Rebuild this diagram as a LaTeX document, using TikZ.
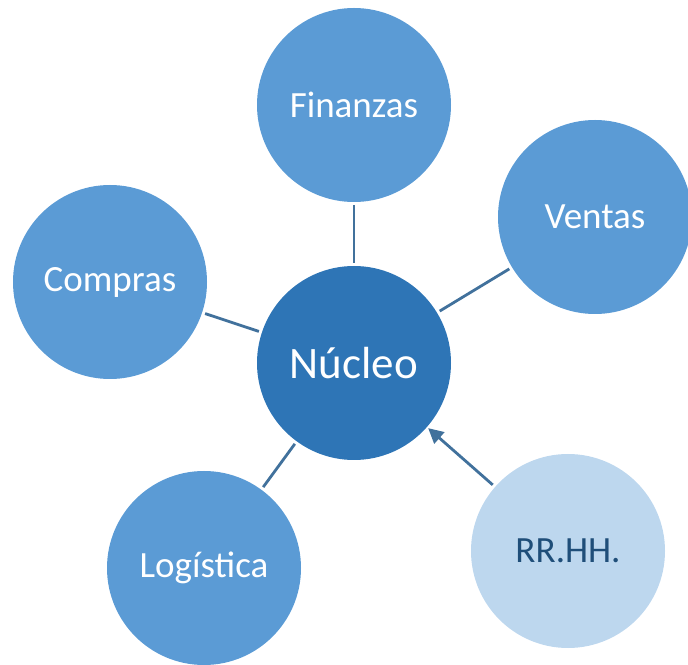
\documentclass[tikz,border=0pt]{standalone}
\usepackage{fontspec}
\setmainfont{Carlito}
\usetikzlibrary{arrows.meta}
\definecolor{core}{HTML}{2E75B6}
\definecolor{dept}{HTML}{5B9BD5}
\definecolor{light}{HTML}{BDD7EE}
\definecolor{darktext}{HTML}{1F4E79}
\definecolor{linec}{HTML}{41719C}
\begin{document}
\begin{tikzpicture}[x=1pt,y=1pt,
  bubble/.style={circle,fill=dept,draw=none,minimum size=194pt,inner sep=0pt,text=white,font=\fontsize{37}{40}\selectfont},
  corebubble/.style={bubble,fill=core,font=\fontsize{45}{48}\selectfont},
  lightbubble/.style={bubble,fill=light,text=darktext},
  link/.style={draw=linec,line width=2.8pt,shorten <=3pt,shorten >=3pt},
  arrowlink/.style={link,shorten >=1.5pt,-{Triangle[length=15pt,width=15pt]}}]
\useasboundingbox (0,0) rectangle (688,664);
\node[corebubble] (nucleo) at (354,301) {Núcleo};
\node[bubble] (fin) at (354,559) {Finanzas};
\node[bubble] (ven) at (595,447) {Ventas};
\node[bubble] (com) at (110,382) {Compras};
\node[bubble] (log) at (204,96) {Logística};
\node[lightbubble] (rrhh) at (568,113) {RR.HH.};
\draw[link] (fin) -- (nucleo);
\draw[link] (ven) -- (nucleo);
\draw[link] (com) -- (nucleo);
\draw[link] (log) -- (nucleo);
\draw[arrowlink] (rrhh) -- (nucleo);
\end{tikzpicture}
\end{document}
